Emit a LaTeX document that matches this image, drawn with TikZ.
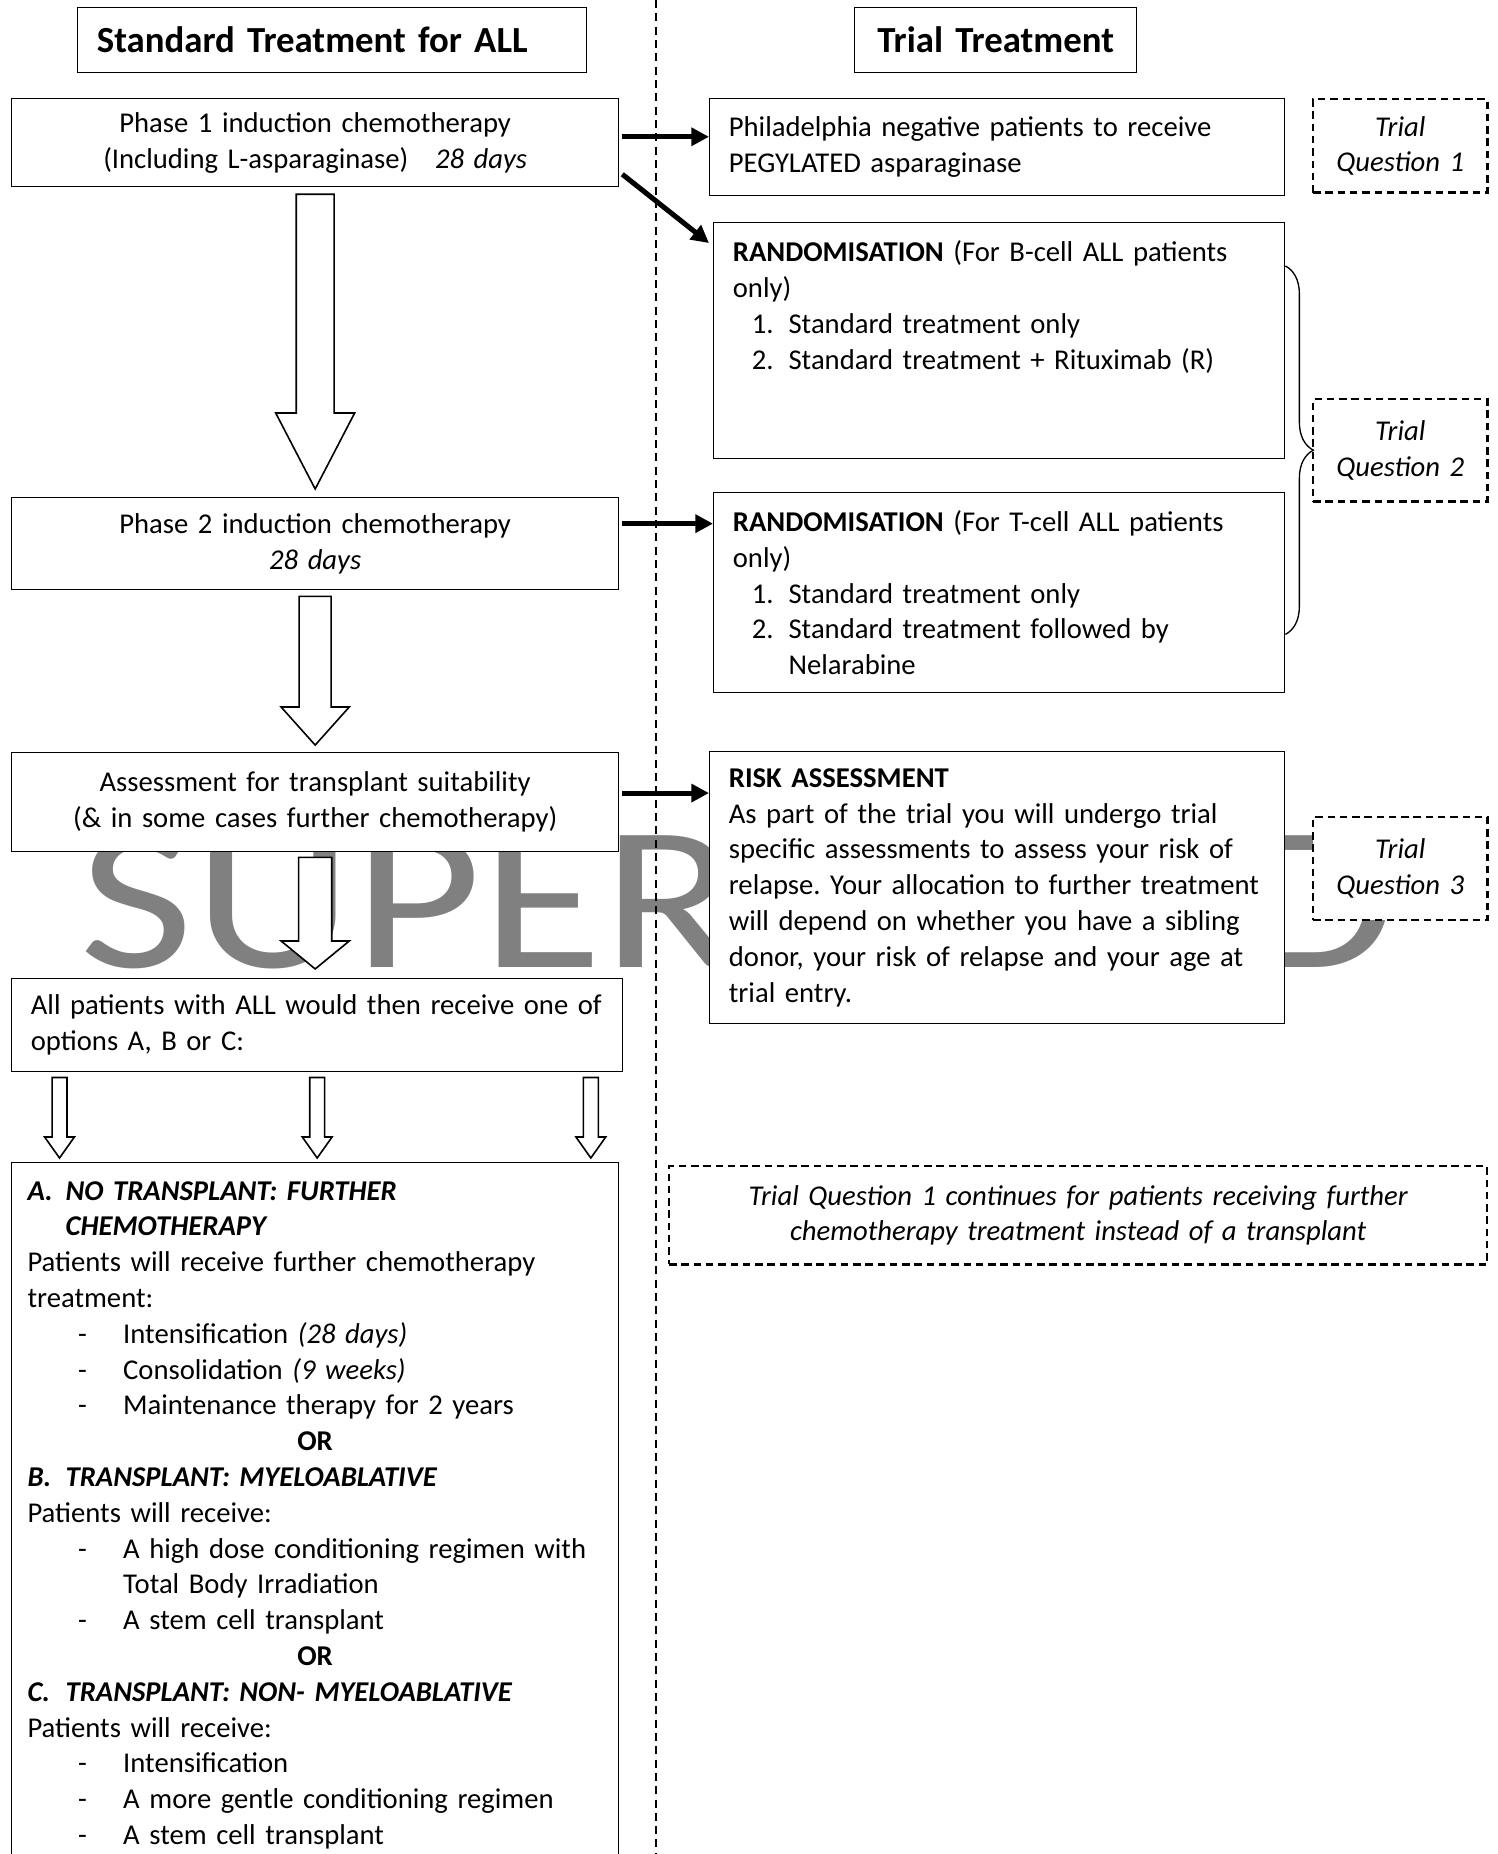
\documentclass[tikz,border=0pt]{standalone}
\usepackage{fontspec}
\setmainfont{Carlito}
\usetikzlibrary{arrows.meta,decorations.pathreplacing,calc}
\hyphenpenalty=10000
\exhyphenpenalty=10000
\frenchspacing
\newcommand{\bodyfont}{\fontsize{10.75}{13.43}\selectfont}
\newcommand{\headfont}{\fontsize{13.8}{17}\selectfont\bfseries}

\tikzset{
  box/.style={draw, line width=0.5pt, fill=white, anchor=north west, inner xsep=7.2pt, inner ysep=0pt, font=\bodyfont},
  qbox/.style={box, line width=0.9pt, dash pattern=on 2.8pt off 1.8pt, inner xsep=2pt, align=center, font=\bodyfont\itshape},
  pointer/.style={line width=1.9pt, -{Triangle[length=6.6pt,width=6.6pt]}},
  sepline/.style={line width=0.5pt, dash pattern=on 3pt off 2pt},
}
\newcommand{\numitem}[2]{\hspace*{7.1pt}\makebox[13.8pt][l]{#1}#2}
\newcommand{\dashitem}[1]{\hspace*{19pt}\makebox[16.9pt][l]{-}#1}
% start, tip, shaft half width, head half width, head length
\newcommand{\hollowdown}[5]{%
  \draw[line width=0.6pt, fill=white] let \p1=#1, \p2=#2 in
    (\x1-#3,\y1) -- (\x1+#3,\y1) -- (\x1+#3,\y2+#5) -- (\x1+#4,\y2+#5)
    -- (\x1,\y2) -- (\x1-#4,\y2+#5) -- (\x1-#3,\y2+#5) -- cycle;}

\begin{document}
\begin{tikzpicture}[x=0.3751pt, y=-0.3751pt]
\useasboundingbox (0,0) rectangle (1498,1854);
\fill[white] (0,0) rectangle (1498,1854);
\clip (0,0) rectangle (1498,1854);
% watermark
\node[anchor=base west, inner sep=0pt, text=gray] (wmark) at (79,967) {\resizebox{494pt}{50pt}{SUPERSEDED}};
\draw[sepline] (656,0) -- (656,1854);
% left column
\node[box, minimum width=190.9pt, minimum height=24.4pt, text width=176.5pt, align=left, font=\headfont] (stdttl) at (77,7) {Standard Treatment for ALL};
\node[box, minimum width=227.7pt, minimum height=33pt, text width=213.3pt, align=center] (ph1) at (11,98) {Phase 1 induction chemotherapy\\(Including L-asparaginase)\hspace{10pt}\textit{28 days}};
\node[box, minimum width=227.7pt, minimum height=34.5pt, text width=213.3pt, align=center] (ph2) at (11,497) {Phase 2 induction chemotherapy\\\textit{28 days}};
\node[box, minimum width=227.7pt, minimum height=37.1pt, text width=213.3pt, align=center] (asm) at (11,752) {Assessment for transplant suitability\\(\& in some cases further chemotherapy)};
\node[box, minimum width=229.2pt, minimum height=34.9pt, text width=214.8pt, align=left] (allp) at (11,978) {All patients with ALL would then receive one of\\options A, B or C:};
\node[box, minimum width=227.7pt, minimum height=300pt] (opts) at (11,1162) {};
\node[anchor=north west, inner xsep=6pt, inner ysep=7pt, text width=215.7pt, align=left, font=\bodyfont] (optstxt) at (opts.north west) {%
\textbf{\textit{\makebox[14.3pt][l]{A.}NO TRANSPLANT: FURTHER}}\\
\hspace*{14.3pt}\textbf{\textit{CHEMOTHERAPY}}\\
Patients will receive further chemotherapy\\
treatment:\\
\dashitem{Intensification \textit{(28 days)}}\\
\dashitem{Consolidation \textit{(9 weeks)}}\\
\dashitem{Maintenance therapy for 2 years}\\
\makebox[\hsize]{\textbf{OR}}\\
\textbf{\textit{\makebox[14.3pt][l]{B.}TRANSPLANT: MYELOABLATIVE}}\\
Patients will receive:\\
\dashitem{A high dose conditioning regimen with}\\
\hspace*{35.9pt}Total Body Irradiation\\
\dashitem{A stem cell transplant}\\
\makebox[\hsize]{\textbf{OR}}\\
\textbf{\textit{\makebox[14.3pt][l]{C.}TRANSPLANT: NON- MYELOABLATIVE}}\\
Patients will receive:\\
\dashitem{Intensification}\\
\dashitem{A more gentle conditioning regimen}\\
\dashitem{A stem cell transplant}};
% right column
\node[box, minimum width=105.8pt, minimum height=24.4pt, text width=91.4pt, align=center, font=\headfont] (trialttl) at (854,7) {Trial Treatment};
\node[box, minimum width=215.7pt, minimum height=36.4pt, text width=201.3pt, align=left] (phil) at (709,98) {Philadelphia negative patients to receive\\PEGYLATED asparaginase};
\node[box, minimum width=214.2pt, minimum height=88.5pt, text width=199.8pt, align=left] (rndB) at (713,222) {\textbf{RANDOMISATION} (For B-cell ALL patients\\only)\\\numitem{1.}{Standard treatment only}\\\numitem{2.}{Standard treatment + Rituximab (R)}\\~\\~};
\node[box, minimum width=214.2pt, minimum height=75pt, text width=199.8pt, align=left] (rndT) at (713,492) {\textbf{RANDOMISATION} (For T-cell ALL patients\\only)\\\numitem{1.}{Standard treatment only}\\\numitem{2.}{Standard treatment followed by}\\\hspace*{20.9pt}Nelarabine};
\node[box, minimum width=215.7pt, minimum height=102pt, text width=201.3pt, align=left] (risk) at (709,751) {\textbf{RISK ASSESSMENT}\\As part of the trial you will undergo trial\\specific assessments to assess your risk of\\relapse. Your allocation to further treatment\\will depend on whether you have a sibling\\donor, your risk of relapse and your age at\\trial entry.};
\node[qbox, minimum width=306.8pt, minimum height=36.8pt, text width=300pt] (tqc) at (668,1165) {Trial Question 1 continues for patients receiving further\\chemotherapy treatment instead of a transplant};
% trial questions
\node[qbox, minimum width=65.3pt, minimum height=35pt, text width=61.3pt] (tq1) at (1312,98) {Trial\\Question 1};
\node[qbox, minimum width=65.3pt, minimum height=38.3pt, text width=61.3pt] (tq2) at (1312,398) {Trial\\Question 2};
\node[qbox, minimum width=65.3pt, minimum height=38.6pt, text width=61.3pt] (tq3) at (1312,816) {Trial\\Question 3};
% block arrows
\hollowdown{([yshift=-2.6pt]ph1.south)}{([yshift=3pt]ph2.north)}{7.1pt}{14.8pt}{28.5pt}
\hollowdown{([yshift=-2.3pt]ph2.south)}{([yshift=2.6pt]asm.north)}{6pt}{12.8pt}{14.3pt}
\hollowdown{([yshift=-1.9pt]asm.south)}{([yshift=3.4pt]allp.north)}{6.2pt}{12.8pt}{10.5pt}
\hollowdown{([xshift=18.2pt,yshift=-1.9pt]allp.south west)}{([yshift=1.5pt]opts.north)}{2.8pt}{5.6pt}{7.9pt}
\hollowdown{([yshift=-1.9pt]allp.south)}{([yshift=1.5pt]opts.north)}{2.8pt}{5.6pt}{7.9pt}
\hollowdown{([xshift=-12.2pt,yshift=-1.9pt]allp.south east)}{([yshift=1.5pt]opts.north)}{2.8pt}{5.6pt}{7.9pt}
% arrows to the trial
\draw[pointer] ([xshift=1pt,yshift=2.2pt]ph1.east) -- ([yshift=2.2pt]ph1.east -| phil.west);
\draw[pointer] ([shift={(1.1pt,4.9pt)}]ph1.south east) -- ([shift={(-1.5pt,-7.9pt)}]rndB.north west);
\draw[pointer] ([xshift=1pt,yshift=7.5pt]ph2.east) -- ([yshift=7.5pt]ph2.east -| rndT.west);
\draw[pointer] ([xshift=1pt,yshift=3.4pt]asm.east) -- ([yshift=3.4pt]asm.east -| risk.west);
\draw[line width=0.5pt, decorate, decoration={brace, amplitude=10.5pt}] ([yshift=-16.5pt]rndB.north east) -- ([yshift=22.1pt]rndT.south east);
\end{tikzpicture}
\end{document}
